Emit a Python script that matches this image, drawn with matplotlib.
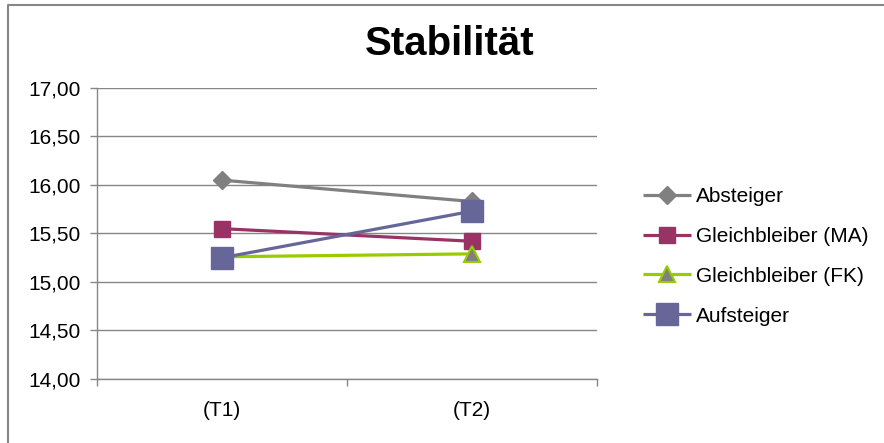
import matplotlib
matplotlib.use("Agg")
import matplotlib.pyplot as plt
from matplotlib.lines import Line2D
from matplotlib.ticker import FuncFormatter, FixedLocator

plt.rcParams['font.family'] = ['Liberation Sans', 'DejaVu Sans']

# Measurement points and group means
categories = ["(T1)", "(T2)"]
series_names = ["Absteiger", "Gleichbleiber (MA)", "Gleichbleiber (FK)", "Aufsteiger"]
absteiger = [16.05, 15.83]
gleich_ma = [15.55, 15.42]
gleich_fk = [15.26, 15.29]
aufsteiger = [15.25, 15.73]
y_ticks = [14.0, 14.5, 15.0, 15.5, 16.0, 16.5, 17.0]

styles = [
    dict(color="#808080", marker="D", ms=9.5, mfc="#808080", mec="#808080"),
    dict(color="#993366", marker="s", ms=11, mfc="#993366", mec="#993366"),
    dict(color="#99CC00", marker="^", ms=12, mfc="#808080", mec="#99CC00", mew=1.5),
    dict(color="#666699", marker="s", ms=16, mfc="#666699", mec="#666699"),
]

fig = plt.figure(figsize=(8.84, 4.43), dpi=100)
ax = fig.add_axes([97 / 884, 1 - 379 / 443, 500 / 884, 291 / 443])

x = list(range(len(categories)))
for name, vals, st in zip(series_names, [absteiger, gleich_ma, gleich_fk, aufsteiger], styles):
    ax.plot(x, vals, lw=2.3, label=name, solid_capstyle="butt", **st)

grid_c = "#868686"
ax.set_xlim(-0.5, len(categories) - 0.5)
ax.set_ylim(14.0, 17.0)
ax.yaxis.set_major_locator(FixedLocator(y_ticks))
ax.yaxis.set_major_formatter(FuncFormatter(lambda v, p: f"{v:.2f}".replace(".", ",")))
ax.yaxis.grid(True, color=grid_c, lw=1.0)
ax.set_axisbelow(True)

ax.xaxis.set_major_locator(FixedLocator([i - 0.5 for i in range(len(categories) + 1)]))
ax.xaxis.set_major_formatter(FuncFormatter(lambda v, p: ""))
ax.xaxis.set_minor_locator(FixedLocator(x))
ax.set_xticklabels(categories, minor=True)

ax.tick_params(axis="x", which="major", direction="out", length=5, width=1, color=grid_c)
ax.tick_params(axis="x", which="minor", length=0, pad=16, labelsize=15)
ax.tick_params(axis="y", direction="out", length=5, width=1, color=grid_c, pad=7, labelsize=15)

for s in ("top", "right"):
    ax.spines[s].set_visible(False)
for s in ("left", "bottom"):
    ax.spines[s].set_color(grid_c)
    ax.spines[s].set_linewidth(1.0)

fig.text(450 / 884, 1 - 44 / 443, "Stabilität", ha="center", va="center",
         fontsize=29, fontweight="bold")

leg = fig.legend(loc="upper left", bbox_to_anchor=(643 / 884, 1 - 187 / 443),
                 frameon=False, fontsize=15, handlelength=2.3, handletextpad=0.25,
                 labelspacing=1.0, borderpad=0, borderaxespad=0)

# Chart area outline (top and left edges)
fig.lines.append(Line2D([8 / 884, 8 / 884, 1.0], [0.0, 1 - 5 / 443, 1 - 5 / 443],
                        transform=fig.transFigure, color=grid_c, lw=1.5))

fig.savefig("out.png", dpi=100)
